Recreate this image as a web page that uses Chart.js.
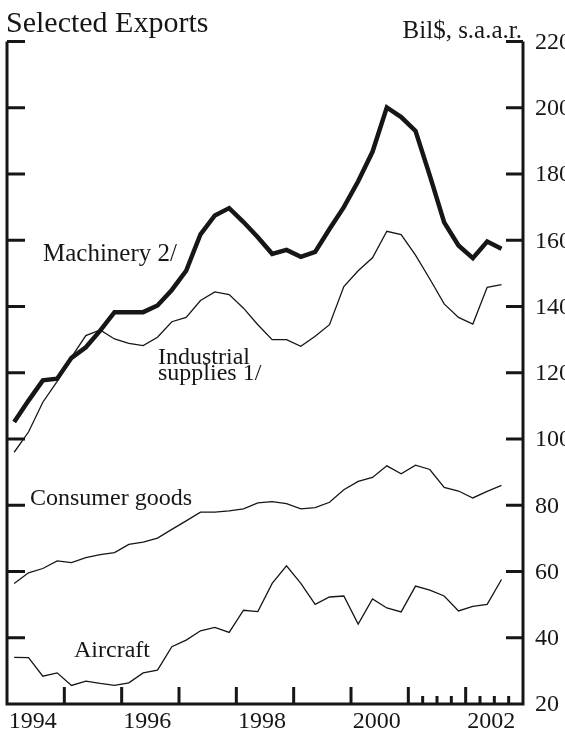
<!DOCTYPE html>
<html>
<head>
<meta charset="utf-8">
<script src="https://cdn.jsdelivr.net/npm/chart.js@4"></script>
<style>
  html, body { margin: 0; padding: 0; background: #fff; }
  canvas { display: block; }
</style>
</head>
<body>
<canvas id="grafico" width="565" height="731"></canvas>
<script>
// --- Dados (bilhões de US$, s.a.a.r., trimestral 1994Q1-2002Q3) ---
const quarters = [];
for (let ano = 1994; ano <= 2002; ano++) {
    for (let q = 1; q <= 4; q++) quarters.push(ano + 'Q' + q);
}
const machinery = [105.1, 111.6, 117.7, 118.2, 124.5, 127.7, 132.7, 138.3, 138.3, 138.3, 140.3, 145.0,
    150.8, 161.8, 167.5, 169.7, 165.5, 160.9, 155.9, 157.1, 155.0, 156.5, 163.4, 170.0,
    177.8, 186.7, 200.1, 197.2, 193.0, 179.5, 165.4, 158.4, 154.6, 159.6, 157.4];
const industrial = [96.0, 102.1, 111.1, 117.4, 124.7, 131.2, 132.9, 130.2, 128.9, 128.2, 130.7, 135.4,
    136.7, 141.8, 144.4, 143.6, 139.5, 134.5, 130.0, 130.0, 128.0, 131.0, 134.5, 146.0,
    150.8, 154.7, 162.7, 161.7, 155.5, 148.3, 140.8, 136.7, 134.7, 145.8, 146.6];
const consumer = [56.4, 59.6, 60.9, 63.2, 62.7, 64.2, 65.1, 65.7, 68.2, 68.9, 70.1, 72.7,
    75.3, 77.9, 77.9, 78.3, 78.9, 80.7, 81.1, 80.5, 78.9, 79.3, 80.9, 84.7,
    87.2, 88.4, 91.9, 89.5, 92.1, 90.8, 85.4, 84.3, 82.2, 84.2, 86.0];
const aircraft = [34.1, 34.0, 28.4, 29.4, 25.6, 26.9, 26.2, 25.6, 26.4, 29.4, 30.2, 37.3,
    39.3, 42.1, 43.1, 41.6, 48.3, 47.9, 56.4, 61.7, 56.4, 50.1, 52.3, 52.6,
    44.1, 51.7, 49.0, 47.8, 55.6, 54.4, 52.6, 48.1, 49.5, 50.1, 57.6];

// --- Eixos ---
const yTicks = [40, 60, 80, 100, 120, 140, 160, 180, 200, 220];
const yLabels = [20, 40, 60, 80, 100, 120, 140, 160, 180, 200, 220];
const yearTicks = ['1995', '1996', '1997', '1998', '1999', '2000', '2001', '2002'];
const quarterTicks = ['2001Q2', '2001Q3', '2001Q4', '2002Q2', '2002Q3', '2002Q4'];
const yearLabels = ['1994', '1996', '1998', '2000', '2002'];

const ink = '#161616';
const serif = '"Liberation Serif", "Times New Roman", serif';

// rótulos das séries (posição em px)
const rotulos = [
    { text: 'Machinery 2/', x: 43, y: 261, size: 25 },
    { text: 'Industrial', x: 158, y: 364, size: 24 },
    { text: 'supplies 1/', x: 158, y: 380, size: 24 },
    { text: 'Consumer goods', x: 30, y: 505, size: 24 },
    { text: 'Aircraft', x: 74, y: 657, size: 24 }
];

const moldura = {
    id: 'moldura',
    afterDraw(chart) {
        const { ctx, chartArea: a, scales: { x, y } } = chart;
        const meioTri = (x.getPixelForValue(1) - x.getPixelForValue(0)) / 2;
        const inicio = (lbl) => x.getPixelForValue(quarters.indexOf(lbl)) - meioTri;

        ctx.save();
        ctx.strokeStyle = ink;
        ctx.fillStyle = ink;
        ctx.lineWidth = 3;
        ctx.lineCap = 'butt';

        // moldura: esquerda, base, direita
        ctx.beginPath();
        ctx.moveTo(a.left, a.top);
        ctx.lineTo(a.left, a.bottom);
        ctx.lineTo(a.right, a.bottom);
        ctx.lineTo(a.right, a.top);
        ctx.stroke();

        // marcas do eixo y
        ctx.beginPath();
        yTicks.forEach(v => {
            const py = y.getPixelForValue(v);
            ctx.moveTo(a.left, py);
            ctx.lineTo(a.left + 18, py);
            ctx.moveTo(a.right - 17, py);
            ctx.lineTo(a.right, py);
        });
        // marcas anuais e trimestrais
        yearTicks.forEach(ano => {
            const px = inicio(ano + 'Q1');
            ctx.moveTo(px, a.bottom);
            ctx.lineTo(px, a.bottom - 17);
        });
        quarterTicks.forEach(q => {
            const px = inicio(q);
            ctx.moveTo(px, a.bottom);
            ctx.lineTo(px, a.bottom - 8);
        });
        ctx.stroke();

        // números do eixo y (à direita)
        ctx.font = '24px ' + serif;
        ctx.textAlign = 'left';
        ctx.textBaseline = 'middle';
        yLabels.forEach(v => ctx.fillText(String(v), a.right + 12, y.getPixelForValue(v) + 1));

        // anos
        ctx.textAlign = 'center';
        ctx.textBaseline = 'alphabetic';
        yearLabels.forEach(ano => {
            const c = (x.getPixelForValue(quarters.indexOf(ano + 'Q2')) + x.getPixelForValue(quarters.indexOf(ano + 'Q3'))) / 2;
            ctx.fillText(ano, c - 3, a.bottom + 24);
        });

        // títulos
        ctx.textAlign = 'left';
        ctx.font = '30px ' + serif;
        ctx.fillText('Selected Exports', 6, 32);
        ctx.textAlign = 'right';
        ctx.font = '25px ' + serif;
        ctx.fillText('Bil$, s.a.a.r.', a.right - 1, 38);

        // rótulos das séries
        ctx.textAlign = 'left';
        rotulos.forEach(r => {
            ctx.font = r.size + 'px ' + serif;
            ctx.fillText(r.text, r.x, r.y);
        });
        ctx.restore();
    }
};

const serie = (nome, dados, largura) => ({
    label: nome,
    data: dados,
    borderColor: ink,
    borderWidth: largura,
    borderJoinStyle: 'miter',
    pointRadius: 0,
    tension: 0,
    fill: false
});

new Chart(document.getElementById('grafico'), {
    type: 'line',
    data: {
        labels: quarters,
        datasets: [
            serie('Machinery 2/', machinery, 4.5),
            serie('Industrial supplies 1/', industrial, 1.3),
            serie('Consumer goods', consumer, 1.3),
            serie('Aircraft', aircraft, 1.3)
        ]
    },
    options: {
        responsive: false,
        animation: false,
        devicePixelRatio: 1,
        layout: { padding: { left: 7, right: 42, top: 41.5, bottom: 27 } },
        scales: {
            x: { type: 'category', offset: true, display: false },
            y: { min: 20, max: 220, display: false }
        },
        plugins: { legend: { display: false }, tooltip: { enabled: false } }
    },
    plugins: [moldura]
});
</script>
</body>
</html>
